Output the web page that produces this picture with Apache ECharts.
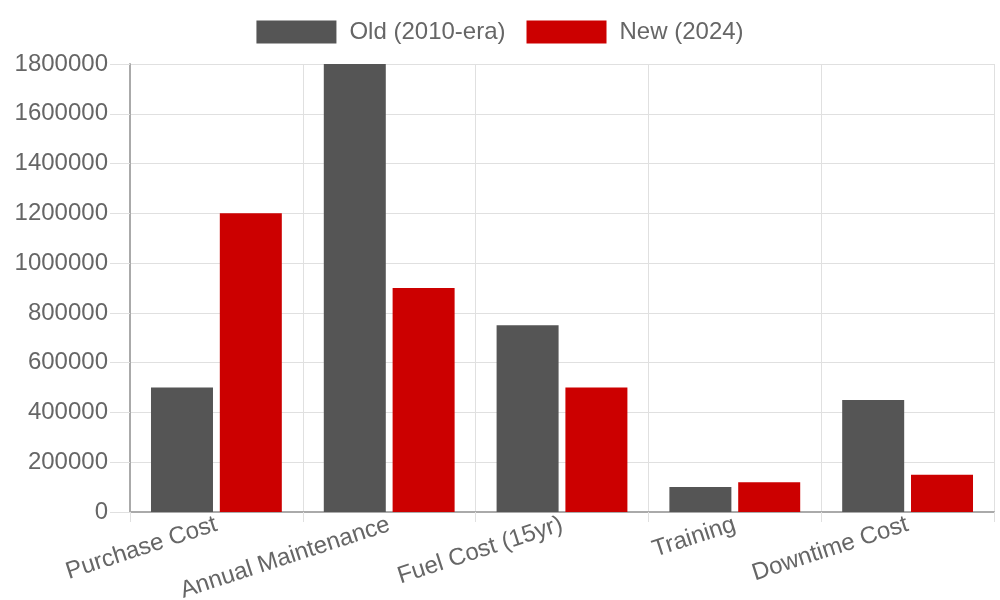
<!DOCTYPE html>
<html>
<head>
<meta charset="utf-8">
<script src="https://cdn.jsdelivr.net/npm/echarts@6/dist/echarts.min.js"></script>
<style>
    html, body { margin: 0; padding: 0; background: #fff; }
    #chart { width: 1000px; height: 600px; }
</style>
</head>
<body>
<div id="chart"></div>
<script>
// cost categories on the x axis
const categories = ['Purchase Cost', 'Annual Maintenance', 'Fuel Cost (15yr)', 'Training', 'Downtime Cost'];
// values for each fleet generation
const oldValues = [500000, 1800000, 750000, 100000, 450000];
const newValues = [1200000, 900000, 500000, 120000, 150000];
const seriesNames = ['Old (2010-era)', 'New (2024)'];

const font = 'Liberation Sans, Arial, sans-serif';

let chart = echarts.init(document.getElementById('chart'));

let option = {
    animation: false,
    legend: {
        top: 15,
        left: 'center',
        icon: 'rect',
        itemWidth: 80,
        itemHeight: 23,
        itemGap: 21,
        textStyle: { color: '#666', fontSize: 24, fontFamily: font, padding: [0, 0, 0, 8] },
        data: seriesNames
    },
    grid: {
        left: 130,
        right: 6,
        top: 64,
        bottom: 88,
        outerBoundsMode: 'none',
        containLabel: false
    },
    xAxis: {
        type: 'category',
        data: categories,
        axisLine: { lineStyle: { color: '#aaa', width: 2 } },
        axisTick: { show: true, length: 10, lineStyle: { color: '#e0e0e0' } },
        splitLine: { show: true, lineStyle: { color: '#e0e0e0' } },
        axisLabel: {
            rotate: 18,
            margin: 12,
            color: '#666',
            fontSize: 24,
            fontFamily: font,
            interval: 0
        }
    },
    yAxis: {
        type: 'value',
        min: 0,
        max: 1800000,
        interval: 200000,
        axisLine: { show: true, lineStyle: { color: '#aaa', width: 2 } },
        axisTick: { show: true, length: 20, lineStyle: { color: '#e0e0e0' } },
        splitLine: { lineStyle: { color: '#e0e0e0' } },
        axisLabel: {
            margin: 22,
            color: '#666',
            fontSize: 24,
            fontFamily: font,
            formatter: (v) => String(v)
        }
    },
    series: [
        {
            name: seriesNames[0],
            type: 'bar',
            data: oldValues,
            barWidth: 62,
            barGap: '11%',
            itemStyle: { color: '#555555' }
        },
        {
            name: seriesNames[1],
            type: 'bar',
            data: newValues,
            barWidth: 62,
            itemStyle: { color: '#cc0000' }
        }
    ]
};

chart.setOption(option);
</script>
</body>
</html>
